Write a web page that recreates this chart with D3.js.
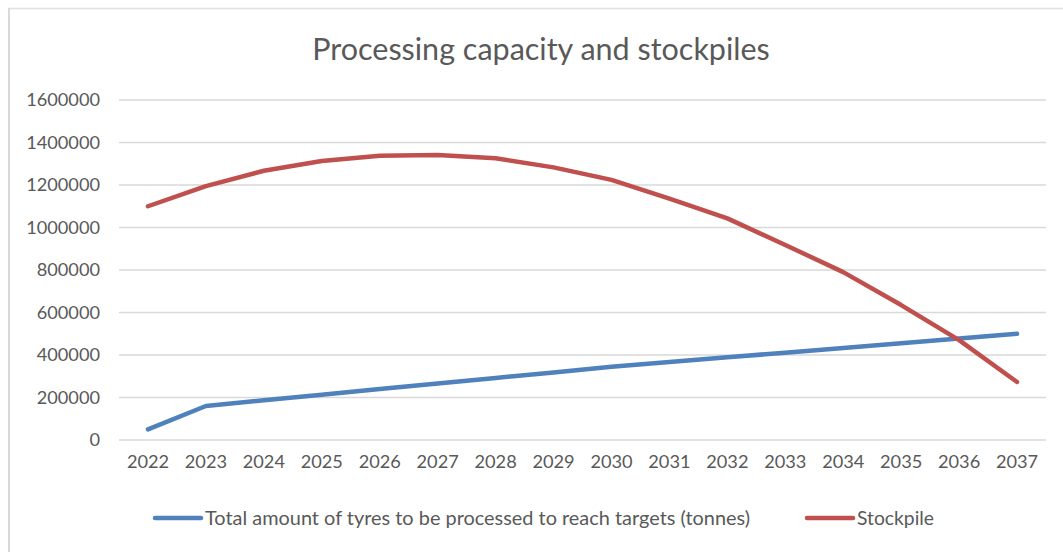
<!DOCTYPE html>
<html><head><meta charset="utf-8">
<script src="https://cdn.jsdelivr.net/npm/d3@7"></script>
<style>
html,body{margin:0;padding:0;background:#fff;}
svg{display:block;}
text{font-family:Lato,"Open Sans",sans-serif;}
</style></head>
<body><svg id="c" width="1063" height="552"></svg>
<script>
const years = ["2022","2023","2024","2025","2026","2027","2028","2029","2030","2031","2032","2033","2034","2035","2036","2037"];
const processed = [50000,160000,187000,213000,240000,266000,292000,318000,345000,367000,389000,411000,433000,455000,478000,500000];
const stockpile = [1100000,1195000,1267000,1313000,1338000,1341000,1326000,1283000,1224000,1136000,1043000,918000,790000,635000,470000,273000];
const yTicks = [0,200000,400000,600000,800000,1000000,1200000,1400000,1600000];
const seriesNames = ["Total amount of tyres to be processed to reach targets (tonnes)","Stockpile"];
const colors = ["#4f81bd","#c0504d"];

const svg = d3.select("#c");
// chart frame
svg.append("line").attr("x1",9).attr("x2",1063).attr("y1",8.5).attr("y2",8.5).attr("stroke","#e0e0e0").attr("stroke-width",1.5);
svg.append("line").attr("x1",9).attr("x2",9).attr("y1",8).attr("y2",552).attr("stroke","#d9d9d9").attr("stroke-width",2);

const x = d3.scaleBand().domain(years).range([119,1046]);
const y = d3.scaleLinear().domain([0,1600000]).range([440,100]);

// gridlines
svg.append("g").selectAll("line").data(yTicks).join("line")
  .attr("x1",119).attr("x2",1046)
  .attr("y1",d=>y(d)).attr("y2",d=>y(d))
  .attr("stroke","#d9d9d9").attr("stroke-width",1.3);

// y axis labels
const yAxis = svg.append("g").attr("transform","translate(100,0)")
  .call(d3.axisLeft(y).tickValues(yTicks).tickSize(0).tickPadding(0).tickFormat(d3.format("d")));
yAxis.select(".domain").remove();
yAxis.selectAll("text").attr("font-size",18.2).attr("fill","#595959").style("font-family","Lato,sans-serif");

// x axis labels
const xAxis = svg.append("g").attr("transform","translate(0,455)")
  .call(d3.axisBottom(x).tickSize(0).tickPadding(0));
xAxis.select(".domain").remove();
xAxis.selectAll("text").attr("font-size",18.2).attr("fill","#595959").attr("dy","0.71em").style("font-family","Lato,sans-serif");

// lines
const cx = d => x(d) + x.bandwidth()/2;
const line = d3.line().x((d,i)=>cx(years[i])).y(d=>y(d));
[processed, stockpile].forEach((s,i)=>{
  svg.append("path").datum(s).attr("d",line)
    .attr("fill","none").attr("stroke",colors[i]).attr("stroke-width",4.5)
    .attr("stroke-linecap","round").attr("stroke-linejoin","round");
});

// title
svg.append("text").attr("x",541).attr("y",60).attr("text-anchor","middle")
  .attr("font-size",30.5).attr("fill","#595959").text("Processing capacity and stockpiles");

// legend
const legX = [155, 807];
const legW = [545, 77];
seriesNames.forEach((n,i)=>{
  svg.append("line").attr("x1",legX[i]).attr("x2",legX[i]+46).attr("y1",518).attr("y2",518)
    .attr("stroke",colors[i]).attr("stroke-width",4.5).attr("stroke-linecap","round");
  svg.append("text").attr("x",legX[i]+50).attr("y",525).attr("font-size",19).attr("fill","#595959")
    .attr("textLength",legW[i]).attr("lengthAdjust","spacingAndGlyphs").text(n);
});
</script></body></html>
